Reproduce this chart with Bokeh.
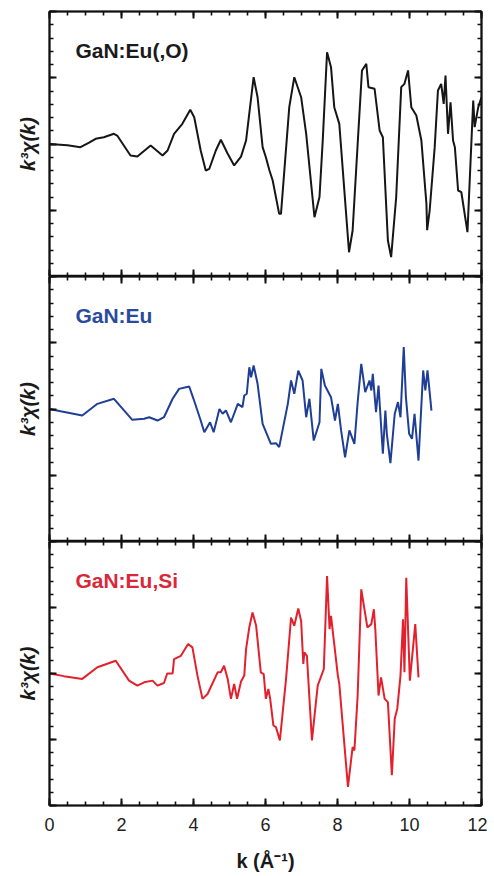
from bokeh.plotting import figure
from bokeh.layouts import column
from bokeh.models import LinearAxis, FixedTicker, Range1d, Label
from bokeh.embed import file_html
from bokeh.resources import INLINE

# ---- data (k in 1/Angstrom, k^3 chi(k) in arbitrary units) ----
k_euo = [0, 0.5, 0.86, 1.1, 1.28, 1.51, 1.79, 1.88, 2.25, 2.44, 2.81, 3.14, 3.28, 3.46, 3.69,
         3.91, 4.02, 4.2, 4.34, 4.44, 4.62, 4.76, 4.95, 5.13, 5.32, 5.46, 5.67, 5.78, 5.92, 6.01,
         6.11, 6.2, 6.38, 6.43, 6.66, 6.8, 6.99, 7.13, 7.36, 7.5, 7.59, 7.71, 7.82, 7.91, 8.05,
         8.32, 8.42, 8.56, 8.68, 8.8, 8.86, 9.03, 9.17, 9.26, 9.4, 9.49, 9.63, 9.77, 9.86, 9.96,
         10.05, 10.19, 10.33, 10.47, 10.49, 10.56, 10.7, 10.79, 10.88, 10.95, 11.0, 11.07, 11.14,
         11.21, 11.26, 11.35, 11.44, 11.61, 11.77, 11.81, 11.91, 12.0]
chi_euo = [0, -0.1, -0.24, 0.1, 0.39, 0.51, 0.77, 0.64, -0.87, -0.94, -0.11, -0.87, -0.49, 0.77, 1.52,
           2.58, 2.02, -0.49, -2.0, -1.87, -0.49, 0.32, -0.74, -1.62, -0.95, 0.26, 5.04, 3.53, -0.24, -1.0,
           -2.0, -2.75, -5.27, -5.27, 2.78, 5.04, 3.53, 0.77, -5.52, -4.0, 0.26, 6.93, 5.8, 2.78, 1.52,
           -8.17, -6.53, 0.0, 5.55, 6.05, 4.29, 4.17, 1.02, 0.51, -7.28, -8.54, -4.02, 4.29, 4.54, 5.55,
           2.78, 2.15, 0.26, -4.51, -6.5, -5.02, -0.24, 4.04, 4.54, 3.03, 5.17, 0.77, 3.15,
           0.26, -0.24, -3.51, -3.64, -6.65, 3.28, 1.27, 2.78, 3.53]

k_eu = [0, 0.31, 0.91, 1.33, 1.79, 2.3, 2.63, 2.77, 3.0, 3.18, 3.42, 3.6, 3.88, 4.0, 4.2, 4.3, 4.46,
        4.56, 4.72, 4.81, 4.9, 5.04, 5.23, 5.36, 5.41, 5.48, 5.55, 5.6, 5.67, 5.78, 5.92, 6.15, 6.29,
        6.38, 6.62, 6.71, 6.8, 6.91, 7.03, 7.13, 7.22, 7.34, 7.5, 7.55, 7.65, 7.82, 7.93, 8.01, 8.1,
        8.21, 8.33, 8.47, 8.56, 8.66, 8.77, 8.89, 8.94, 8.98, 9.07, 9.14, 9.26, 9.33, 9.37, 9.47,
        9.59, 9.68, 9.75, 9.84, 9.9, 9.99, 10.07, 10.14, 10.25, 10.38, 10.44, 10.5, 10.61]
chi_eu = [0, -0.17, -0.49, 0.39, 0.77, -0.82, -0.74, -0.62, -0.87, -0.62, 0.77, 1.52, 1.7, 0.77, -0.87, -1.75, -1.0,
          -1.75, 0.0, -0.36, -0.11, -1.0, 0.39, 0.14, 1.02, 1.15, 3.15, 2.4, 3.28, 1.9, -1.12, -2.63, -2.58,
          -2.88, 0.39, 2.15, 1.15, 2.9, 2.15, -0.62, 0.77, -2.38, -1.0, 3.03, 1.77, 0.89, -0.87, 0.39, -1.62,
          -3.64, -1.62, -2.63, 0.51, 3.41, 1.27, 2.15, 1.4, 2.66, -0.24, 1.77, -3.38, -0.12, -1.87, -4.09,
          -0.36, 0.52, -0.62, 4.67, 0.89, -1.87, -2.25, -0.36, -3.89, 2.91, 1.4, 2.91, -0.12]

k_eusi = [0, 0.4, 0.91, 1.33, 1.84, 2.21, 2.44, 2.63, 2.86, 3.0, 3.18, 3.27, 3.42, 3.46, 3.65, 3.85,
          3.97, 4.11, 4.25, 4.39, 4.67, 4.76, 4.85, 4.95, 5.04, 5.13, 5.21, 5.32, 5.41, 5.46, 5.55,
          5.64, 5.74, 5.87, 5.95, 6.01, 6.08, 6.13, 6.22, 6.29, 6.4, 6.57, 6.71, 6.8, 6.91, 6.99,
          7.05, 7.08, 7.15, 7.29, 7.45, 7.62, 7.71, 7.78, 7.82, 8.01, 8.05, 8.29, 8.42, 8.47, 8.56,
          8.66, 8.83, 8.94, 9.01, 9.05, 9.14, 9.21, 9.31, 9.4, 9.51, 9.59, 9.66, 9.75, 9.82, 9.86,
          9.91, 10.01, 10.16, 10.25]
chi_eusi = [0, -0.2, -0.41, 0.47, 0.97, -0.54, -0.92, -0.67, -0.54, -0.92, -0.72, 0.0, 0.0, 1.09, 1.34, 2.23,
            1.98, -0.16, -1.92, -1.55, 0.09, 0.09, 0.59, -0.41, -1.92, -0.79, -1.92, -0.6, -0.16, 1.85, 3.5,
            4.62, 3.61, 0.09, -0.04, -1.92, -1.17, -1.92, -3.94, -4.06, -5.07, -0.42, 4.24, 3.61, 4.92, 3.98,
            0.72, 1.6, 1.34, -5.07, -0.92, 0.34, 7.38, 3.36, 4.36, -0.16, -0.79, -8.59, -5.57, -5.83, -1.67,
            6.38, 3.49, 3.74, 4.87, 3.36, -1.67, -0.29, -1.92, -2.17, -7.71, -3.43, -2.68, -0.16, 4.11, 0.09,
            7.26, -0.54, 3.74, -0.29]

# ---- ticks ----
x_major = [0, 2, 4, 6, 8, 10, 12]
x_minor = [0.5 * i for i in range(25)]
x_tick_labels = ["0", "2", "4", "6", "8", "10", "12"]
y_major = [-10, -5, 0, 5, 10]
y_minor = list(range(-10, 11))

panels = [
    (k_euo, chi_euo, "#161616", "GaN:Eu(,O)", "#1a1a1a"),
    (k_eu, chi_eu, "#1f3f96", "GaN:Eu", "#2a4b9b"),
    (k_eusi, chi_eusi, "#e3212c", "GaN:Eu,Si", "#d8283a"),
]

FONT = "Liberation Sans"
FRAME_H = 265


def style_axis(ax, major, minor, labels=False):
    ax.ticker = FixedTicker(ticks=major, minor_ticks=minor)
    ax.major_tick_in = 7
    ax.major_tick_out = 0
    ax.minor_tick_in = 4
    ax.minor_tick_out = 0
    ax.axis_line_color = "#111111"
    ax.axis_line_width = 2
    ax.major_tick_line_color = "#111111"
    ax.major_tick_line_width = 2
    ax.minor_tick_line_color = "#111111"
    ax.minor_tick_line_width = 1.6
    if not labels:
        ax.major_label_text_font_size = "0px"
        ax.major_label_standoff = 0


figs = []
for i, (kk, cc, col, lab, labcol) in enumerate(panels):
    is_top = i == 0
    is_bottom = i == 2
    top_b = 11 if is_top else 0
    bot_b = 68 if is_bottom else 0
    p = figure(width=487, height=FRAME_H + top_b + bot_b,
               x_range=Range1d(0, 12), y_range=Range1d(-10, 10),
               output_backend="svg", toolbar_location=None,
               min_border_left=49, min_border_right=6,
               min_border_top=top_b, min_border_bottom=bot_b)
    p.grid.visible = False
    p.outline_line_color = "#111111"
    p.outline_line_width = 1.6

    bottom_ax = p.xaxis[0]
    left_ax = p.yaxis[0]
    style_axis(bottom_ax, x_major, x_minor, labels=is_bottom)
    style_axis(left_ax, y_major, y_minor)
    top_ax = LinearAxis()
    style_axis(top_ax, x_major, x_minor)
    p.add_layout(top_ax, "above")
    right_ax = LinearAxis()
    style_axis(right_ax, y_major, y_minor)
    p.add_layout(right_ax, "right")

    left_ax.axis_label = "k³χ(k)"
    left_ax.axis_label_text_font = FONT
    left_ax.axis_label_text_font_style = "bold italic"
    left_ax.axis_label_text_font_size = "20px"
    left_ax.axis_label_text_color = "#1a1a1a"
    left_ax.axis_label_standoff = 11

    if is_bottom:
        bottom_ax.major_label_text_font = FONT
        bottom_ax.major_label_text_font_size = "18px"
        bottom_ax.major_label_text_color = "#222222"
        bottom_ax.major_label_standoff = 12
        bottom_ax.major_label_overrides = {t: s for t, s in zip(x_major, x_tick_labels)}
        bottom_ax.axis_label = "k (Å⁻¹)"
        bottom_ax.axis_label_text_font = FONT
        bottom_ax.axis_label_text_font_style = "bold"
        bottom_ax.axis_label_text_font_size = "20px"
        bottom_ax.axis_label_text_color = "#1a1a1a"
        bottom_ax.axis_label_standoff = 16

    p.line(kk, cc, line_color=col, line_width=2)
    p.add_layout(Label(x=0.72, y=7.06, text=lab, text_font=FONT, text_font_style="bold",
                       text_font_size="21px", text_color=labcol, text_baseline="middle",
                       text_align="left"))
    figs.append(p)

layout = column(*figs, spacing=0)
open("out.html", "w").write(file_html(layout, INLINE))
